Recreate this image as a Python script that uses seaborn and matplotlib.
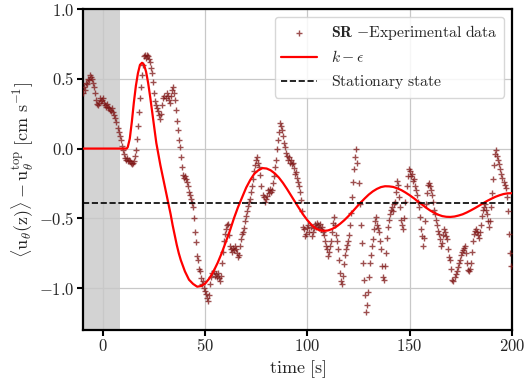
import numpy as np
import pandas as pd
import matplotlib
matplotlib.use("Agg")
import matplotlib.pyplot as plt
from matplotlib.ticker import FuncFormatter
import seaborn as sns

# ---------------- data ----------------
exp_t = np.arange(-10, 200, 0.5)
exp_u = [
    0.40, 0.44, 0.42, 0.47, 0.46, 0.50, 0.49, 0.53, 0.51, 0.50,
    0.47, 0.44, 0.40, 0.35, 0.32, 0.31, 0.33, 0.36, 0.34, 0.35,
    0.36, 0.33, 0.31, 0.30, 0.32, 0.30, 0.29, 0.28, 0.27, 0.29,
    0.26, 0.24, 0.22, 0.19, 0.15, 0.12, 0.09, 0.06, 0.02, -0.01,
    -0.04, -0.07, -0.08, -0.07, -0.09, -0.08, -0.09, -0.10, -0.11, -0.10,
    -0.09, -0.05, -0.01, 0.07, 0.16, 0.26, 0.36, 0.44, 0.53, 0.60,
    0.66, 0.67, 0.65, 0.67, 0.66, 0.64, 0.62, 0.58, 0.54, 0.48,
    0.40, 0.34, 0.31, 0.29, 0.27, 0.24, 0.21, 0.25, 0.31, 0.36,
    0.38, 0.36, 0.40, 0.38, 0.35, 0.33, 0.38, 0.42, 0.44, 0.40,
    0.35, 0.28, 0.20, 0.13, 0.06, 0.01, -0.06, -0.13, -0.19, -0.21,
    -0.20, -0.22, -0.24, -0.27, -0.31, -0.33, -0.36, -0.39, -0.42, -0.50,
    -0.60, -0.67, -0.77, -0.80, -0.86, -0.88, -0.93, -0.97, -0.95, -1.00,
    -1.02, -1.04, -1.07, -1.09, -1.05, -0.97, -0.92, -0.89, -0.88, -0.91,
    -0.90, -0.92, -0.89, -0.93, -0.95, -0.91, -0.82, -0.74, -0.66, -0.61,
    -0.58, -0.55, -0.54, -0.62, -0.70, -0.72, -0.74, -0.71, -0.73, -0.70,
    -0.72, -0.75, -0.78, -0.76, -0.70, -0.65, -0.61, -0.60, -0.57, -0.52,
    -0.48, -0.45, -0.41, -0.38, -0.36, -0.31, -0.27, -0.22, -0.16, -0.12,
    -0.08, -0.06, -0.10, -0.13, -0.19, -0.27, -0.33, -0.35, -0.38, -0.36,
    -0.34, -0.30, -0.32, -0.29, -0.31, -0.30, -0.25, -0.20, -0.13, -0.08,
    0.00, 0.06, 0.12, 0.18, 0.16, 0.13, 0.09, 0.04, 0.01, -0.03,
    -0.05, -0.08, -0.06, -0.10, -0.08, -0.11, -0.10, -0.14, -0.18, -0.17,
    -0.21, -0.24, -0.27, -0.31, -0.37, -0.45, -0.56, -0.58, -0.63, -0.61,
    -0.57, -0.55, -0.60, -0.56, -0.63, -0.60, -0.57, -0.54, -0.56, -0.53,
    -0.55, -0.57, -0.54, -0.58, -0.56, -0.60, -0.62, -0.66, -0.70, -0.72,
    -0.77, -0.74, -0.70, -0.66, -0.60, -0.53, -0.49, -0.55, -0.62, -0.66,
    -0.72, -0.80, -0.89, -0.95, -0.97, -0.91, -0.83, -0.76, -0.72, -0.69,
    -0.66, -0.62, -0.55, -0.46, -0.35, -0.24, -0.15, -0.06, 0.00, -0.10,
    -0.25, -0.40, -0.55, -0.68, -0.82, -0.94, -1.05, -1.17, -1.12, -1.03,
    -0.92, -0.82, -0.76, -0.70, -0.65, -0.58, -0.52, -0.49, -0.55, -0.57,
    -0.60, -0.66, -0.72, -0.84, -0.92, -0.94, -0.84, -0.75, -0.64, -0.56,
    -0.51, -0.47, -0.44, -0.42, -0.45, -0.40, -0.38, -0.31, -0.23, -0.26,
    -0.35, -0.42, -0.51, -0.55, -0.58, -0.50, -0.38, -0.27, -0.20, -0.15,
    -0.16, -0.20, -0.18, -0.23, -0.22, -0.27, -0.30, -0.33, -0.38, -0.42,
    -0.49, -0.58, -0.63, -0.70, -0.64, -0.52, -0.40, -0.32, -0.26, -0.25,
    -0.27, -0.30, -0.33, -0.38, -0.44, -0.47, -0.51, -0.55, -0.59, -0.61,
    -0.65, -0.70, -0.68, -0.62, -0.58, -0.60, -0.63, -0.65, -0.72, -0.78,
    -0.80, -0.86, -0.94, -0.95, -0.92, -0.90, -0.88, -0.85, -0.82, -0.80,
    -0.76, -0.74, -0.73, -0.71, -0.70, -0.75, -0.82, -0.87, -0.88, -0.86,
    -0.82, -0.74, -0.66, -0.61, -0.59, -0.58, -0.60, -0.62, -0.64, -0.60,
    -0.55, -0.48, -0.44, -0.42, -0.40, -0.44, -0.47, -0.52, -0.56, -0.52,
    -0.42, -0.32, -0.22, -0.12, -0.04, -0.01, -0.05, -0.08, -0.11, -0.15,
    -0.18, -0.21, -0.24, -0.26, -0.28, -0.35, -0.45, -0.61, -0.75, -0.84,
]

model_t = [-10, 11.5, 12, 13, 14, 15, 16, 17, 18, 19, 20, 21, 22, 23, 24, 25,
           26, 27, 28, 29, 30, 31, 32, 33, 34, 35, 36, 37, 38, 39, 40, 42,
           44, 46, 48, 50, 52, 54, 56, 58, 60, 62, 64, 66, 68, 70, 72, 74,
           76, 78, 80, 82, 84, 86, 88, 90, 92, 94, 96, 98, 100, 102, 104,
           106, 108, 110, 112, 114, 116, 118, 120, 122, 124, 126, 128, 130,
           132, 134, 136, 138, 140, 142, 144, 146, 148, 150, 152, 154, 156,
           158, 160, 162, 164, 166, 168, 170, 172, 174, 176, 178, 180, 182,
           184, 186, 188, 190, 192, 194, 196, 198, 200]
model_u = [0.0, 0.0, 0.01, 0.07, 0.19, 0.33, 0.45, 0.54, 0.60, 0.615, 0.60,
           0.55, 0.47, 0.37, 0.26, 0.15, 0.04, -0.04, -0.12, -0.19, -0.26,
           -0.33, -0.40, -0.47, -0.55, -0.62, -0.69, -0.75, -0.80, -0.84,
           -0.88, -0.94, -0.97, -0.99, -0.985, -0.966, -0.93, -0.88, -0.82,
           -0.75, -0.67, -0.59, -0.50, -0.42, -0.35, -0.28, -0.225, -0.18,
           -0.155, -0.14, -0.143, -0.156, -0.178, -0.208, -0.246, -0.29,
           -0.337, -0.384, -0.43, -0.475, -0.514, -0.547, -0.572, -0.586,
           -0.59, -0.587, -0.577, -0.561, -0.539, -0.514, -0.485, -0.453,
           -0.42, -0.388, -0.358, -0.33, -0.307, -0.289, -0.276, -0.27,
           -0.271, -0.275, -0.285, -0.298, -0.315, -0.334, -0.355, -0.378,
           -0.40, -0.423, -0.443, -0.46, -0.474, -0.484, -0.489, -0.49,
           -0.487, -0.48, -0.471, -0.458, -0.443, -0.427, -0.41, -0.392,
           -0.375, -0.36, -0.346, -0.335, -0.326, -0.321, -0.32]

stationary_u = -0.39
shade_end = 8.3

xticks = [0, 50, 100, 150, 200]
yticks = [-1.0, -0.5, 0.0, 0.5, 1.0]

exp_df = pd.DataFrame({"t": exp_t, "u": exp_u})
mod_df = pd.DataFrame({"t": model_t, "u": model_u})

# ---------------- style ----------------
sns.set_style("white")
plt.rcParams["mathtext.fontset"] = "cm"
plt.rcParams["font.family"] = ["DejaVu Serif"]

fig = plt.figure(figsize=(5.24, 3.85), dpi=100)
ax = fig.add_axes([0.158, 0.143, 0.8185, 0.8335])

ax.axvspan(-10, shade_end, color="#d3d3d3", zorder=0.2, lw=0)
ax.grid(True, color="#c8c8c8", lw=0.9, zorder=0.5)
ax.set_axisbelow(True)

sns.scatterplot(data=exp_df, x="t", y="u", marker="+", s=20, color="#7d1414",
                alpha=0.75, linewidth=1.0, ax=ax, zorder=3,
                label=r"$\mathbf{SR}\ {-}\mathrm{Experimental\ data}$")
sns.lineplot(data=mod_df, x="t", y="u", color="#ff0000", lw=1.6, ax=ax,
             zorder=4, label=r"$k-\epsilon$")
ax.axhline(stationary_u, color="black", ls="--", lw=1.2, zorder=4,
           label=r"$\mathrm{Stationary\ state}$")

ax.set_xlim(-10, 200)
ax.set_ylim(-1.3, 1.0)
ax.set_xticks(xticks)
ax.set_yticks(yticks)
ax.xaxis.set_major_formatter(FuncFormatter(lambda v, p: f"${v:.0f}$"))
ax.yaxis.set_major_formatter(FuncFormatter(lambda v, p: f"${v:.1f}$"))
ax.tick_params(axis="both", which="major", direction="out", length=4,
               width=1.5, color="black", labelsize=12, pad=2,
               bottom=True, left=True)
for sp in ax.spines.values():
    sp.set_linewidth(1.6)
    sp.set_color("black")

ax.set_xlabel(r"$\mathrm{time\ [s]}$", fontsize=13, labelpad=2)
ax.set_ylabel(r"$\langle \mathrm{u}_\theta(\mathrm{z})\rangle - \mathrm{u}_\theta^{\mathrm{top}}\ [\mathrm{cm\ s}^{-1}]$",
              fontsize=13, labelpad=2)

leg = ax.legend(loc="upper right", fontsize=11.3, frameon=True, fancybox=True,
                handlelength=2.3, borderaxespad=0.5, labelspacing=0.45,
                handletextpad=0.9)
leg.get_frame().set_edgecolor("#d0d0d0")
leg.get_frame().set_alpha(0.85)

fig.savefig("out.png", dpi=100)
